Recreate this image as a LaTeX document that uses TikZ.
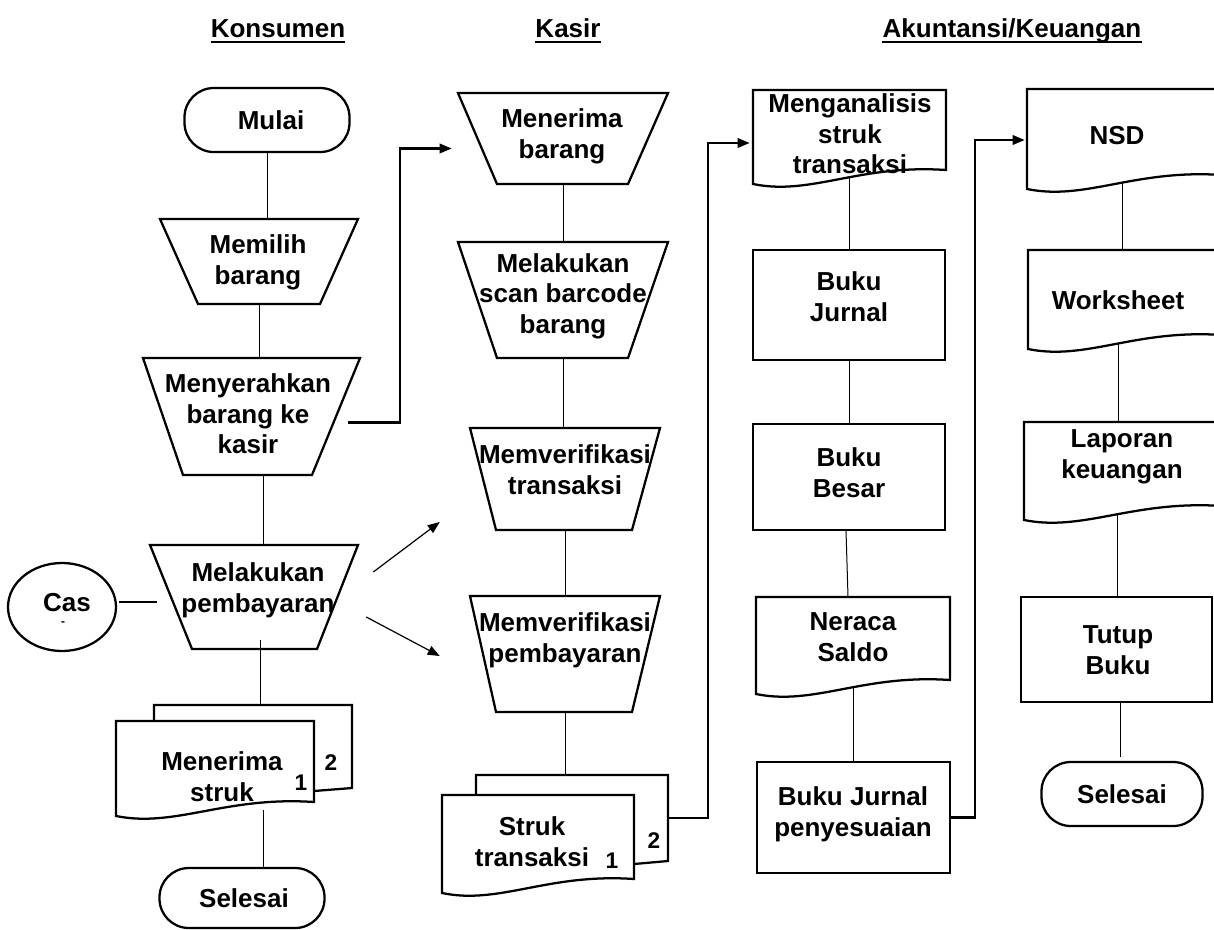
\documentclass[tikz,border=0pt]{standalone}
\usepackage{fontspec}
\setmainfont{Liberation Sans}
\usetikzlibrary{arrows.meta,calc,fit,shapes.geometric}
\newcommand\mktrap[7]{%
  \draw[shp] (#2,#4) -- (#3,#4) -- (#6,#7) -- (#5,#7) -- cycle;
  \node[box, fit={(#2,#4) (#3,#7)}] (#1) {};
}
\newcommand\mkrect[5]{%
  \draw[shp] (#2,#3) rectangle (#4,#5);
  \node[box, fit={(#2,#3) (#4,#5)}] (#1) {};
}
\newcommand\mkdoc[5]{%
  \draw[shp, fill=white] (#2,#4) -- (#3,#4) -- (#3,{#5-8})
    .. controls ({#2+0.55*(#3-#2)},{#5-14}) and ({#2+0.3*(#3-#2)},{#5+18}) .. (#2,{#5+6}) -- cycle;
  \node[box, fit={(#2,#4) (#3,#5)}] (#1) {};
}
\newcommand\mkmulti[7]{%
  \draw[shp] ({#2+#6},#4) -- ({#2+#6},{#4-#7}) -- ({#3+#6},{#4-#7}) -- ({#3+#6},{#5-6-#7}) -- (#3,{#5-3-#7});
  \node[box, fit={({#2+#6},{#4-#7}) ({#3+#6},{#5-6-#7})}] (#1-back) {};
  \mkdoc{#1}{#2}{#3}{#4}{#5}
}
\begin{document}
\begin{tikzpicture}[x=0.75pt,y=-0.75pt,
  shp/.style={line width=1.7pt, line join=miter},
  conn/.style={line width=0.75pt},
  flow/.style={line width=1.7pt, -{Triangle[length=9pt,width=7pt]}},
  thinarrow/.style={line width=0.9pt, -{Triangle[length=9pt,width=7pt]}},
  txt/.style={font=\bfseries\fontsize{19.5}{23}\selectfont, align=center, inner sep=0pt},
  num/.style={font=\bfseries\fontsize{17}{20}\selectfont, inner sep=0pt},
  box/.style={inner sep=0pt, draw=none},
  term/.style={draw, line width=1.7pt, rounded corners=22pt, font=\bfseries\fontsize{19.5}{23}\selectfont, inner sep=0pt},
]
\useasboundingbox (0,0) rectangle (1214,929);
\clip (0,0) rectangle (1214,929);

% headers
\node[txt, anchor=base] (h1) at (278,37) {Konsumen};
\node[txt, anchor=base] (h2) at (568,37) {Kasir};
\node[txt, anchor=base] (h3) at (1012,37) {Akuntansi/Keuangan};
\foreach \h in {h1,h2,h3}
  \draw[line width=2.2pt] ($(\h.base west)+(0,5)$) -- ($(\h.base east)+(0,5)$);

% ---------- column 1: Konsumen
\node[term, minimum width=123.75pt, minimum height=48pt] (mulai) at (267,120) {\hspace*{6pt}Mulai};
\mktrap{memilih}{160}{358}{219}{198}{320}{304}
\node[txt] (t-memilih) at (258,262) {Memilih\\barang};
\mktrap{menyerahkan}{143}{360}{358}{183}{312}{475}
\node[txt] (t-menyerahkan) at (248,414) {Menyerahkan\\barang ke\\kasir};
\mktrap{melakukan}{150}{358}{545}{192}{317}{649}
\node[txt] (t-melakukan) at (258,590) {Melakukan\\pembayaran};
\node[draw, shp, ellipse, minimum width=81pt, minimum height=66pt] (cas) at (62,607) {};
\node[txt] (t-cas) at (67,603) {Cas};
\node[font=\bfseries\fontsize{9}{10}\selectfont, inner sep=0pt] (t-casdot) at (63,624) {-};
\mkmulti{menstruk}{116}{314}{721}{810}{38}{16}
\node[txt] (t-menstruk) at (222,777) {Menerima\\struk};
\node[num] (n-menstruk2) at (331,763) {2};
\node[num] (n-menstruk1) at (301,783) {1};
\node[term, minimum width=123.75pt, minimum height=45pt] (selesai1) at (242,898) {\hspace*{3pt}Selesai};

\draw[conn] (mulai.south) -- (mulai.south |- memilih.north);
\draw[conn] (memilih.south) -- (memilih.south |- menyerahkan.north);
\draw[conn] ($(menyerahkan.south)+(12,0)$) -- ($(menyerahkan.south |- melakukan.north)+(12,0)$);
\draw[conn] ($(melakukan.south)+(6,-9)$) -- ($(melakukan.south |- menstruk-back.north)+(6,0)$);
\draw[conn] ($(menstruk.south)+(48,0)$) -- ($(menstruk.south |- selesai1.north)+(48,0)$);
\draw[line width=1.6pt] ($(cas.east)+(2,-5)$) -- ($(melakukan.west)+(7,5)$);

% ---------- column 2: Kasir
\mktrap{menbarang}{458}{668}{93}{497}{628}{184}
\node[txt] (t-menbarang) at (562,136) {Menerima\\barang};
\mktrap{scan}{458}{668}{242}{497}{628}{358}
\node[txt] (t-scan) at (563,296) {Melakukan\\scan barcode\\barang};
\mktrap{verif1}{470}{660}{428}{496}{632}{530}
\node[txt] (t-verif1) at (565,470) {Memverifikasi\\transaksi};
\mktrap{verif2}{470}{660}{596}{496}{632}{712}
\node[txt] (t-verif2) at (565,640) {Memverifikasi\\pembayaran};
\mkmulti{struk}{442}{634}{795}{887}{34}{20}
\node[txt] (t-struk) at (532,842) {Struk\\transaksi};
\node[num] (n-struk2) at (654,841) {2};
\node[num] (n-struk1) at (612,861) {1};

\draw[conn] (menbarang.south) -- (menbarang.south |- scan.north);
\draw[conn] (scan.south) -- (scan.south |- verif1.north);
\draw[conn] (verif1.south) -- (verif1.south |- verif2.north);
\draw[conn] (verif2.south) -- (verif2.south |- struk-back.north);

% ---------- column 3: Akuntansi
\mkdoc{menganalisis}{753}{946}{90}{178}
\node[txt] (t-menganalisis) at (850,134) {Menganalisis\\struk\\transaksi};
\mkrect{bj}{753}{250}{945}{360}
\node[txt] (t-bj) at (849,297) {Buku\\Jurnal};
\mkrect{bb}{753}{424}{945}{530}
\node[txt] (t-bb) at (849,473) {Buku\\Besar};
\mkdoc{neraca}{756}{950}{597}{688}
\node[txt] (t-neraca) at (853,637) {Neraca\\Saldo};
\mkrect{bjp}{757}{762}{950}{873}
\node[txt] (t-bjp) at (853,814) {Buku Jurnal\\penyesuaian};

\draw[conn] (menganalisis.south) -- (menganalisis.south |- bj.north);
\draw[conn] (bj.south) -- (bj.south |- bb.north);
\draw[conn] ($(bb.south)+(-3,0)$) -- ($(neraca.north)+(-5,0)$);
\draw[conn] (neraca.south) -- (neraca.south |- bjp.north);

% ---------- column 4
\mkdoc{nsd}{1027}{1222}{89}{183}
\node[txt] (t-nsd) at (1117,136) {NSD};
\mkdoc{ws}{1028}{1222}{250}{343}
\node[txt] (t-ws) at (1118,300) {Worksheet};
\mkdoc{lap}{1024}{1222}{422}{514}
\node[txt] (t-lap) at (1122,457) {Laporan\\keuangan};
\mkrect{tutup}{1021}{597}{1212}{702}
\node[txt] (t-tutup) at (1118,650) {Tutup\\Buku};
\node[term, minimum width=120.75pt, minimum height=48pt] (selesai2) at (1122,794) {Selesai};

\draw[conn] ($(nsd.south)+(-2,0)$) -- ($(nsd.south |- ws.north)+(-2,0)$);
\draw[conn] ($(ws.south)+(-7,0)$) -- ($(ws.south |- lap.north)+(-7,0)$);
\draw[conn] ($(lap.south)+(-6,0)$) -- ($(lap.south |- tutup.north)+(-6,0)$);
\draw[conn] ($(tutup.south)+(4,0)$) -- ($(tutup.south |- selesai2.north)+(4,-4)$);

% ---------- cross-column arrows
\draw[flow] ($(menyerahkan.east)+(-12,6)$) -| ($(menbarang.west)+(-58,10)$) -- ($(menbarang.west)+(-6,10)$);
\draw[thinarrow] ($(melakukan.east)+(15,-25)$) -- ($(verif1.west)+(-30,43)$);
\draw[thinarrow] ($(melakukan.east)+(8,20)$) -- ($(verif2.west)+(-30,2)$);
\draw[flow] (struk-back.east) -| ($(menganalisis.west)+(-45,9)$) -- ($(menganalisis.west)+(-3,9)$);
\draw[flow] (bjp.east) -| ($(nsd.west)+(-52,4)$) -- ($(nsd.west)+(-2,4)$);
\end{tikzpicture}
\end{document}
